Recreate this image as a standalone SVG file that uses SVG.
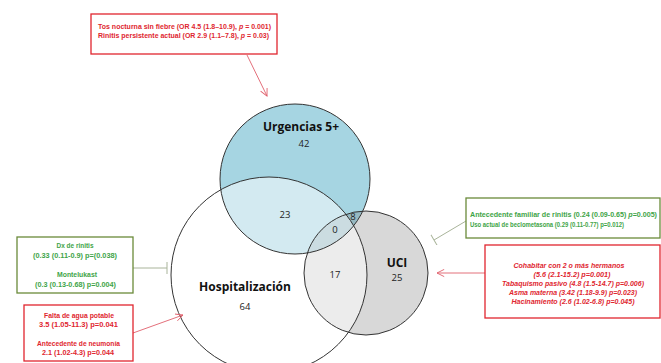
<svg xmlns="http://www.w3.org/2000/svg" width="661" height="363" viewBox="0 0 661 363">
<defs>
<style>
.bx-red{fill:#fff;stroke:#e0262f;stroke-width:1.3}
.bx-grn{fill:#fff;stroke:#6a8a3a;stroke-width:1.3}
.t-red{font-family:"Liberation Sans",Arial,sans-serif;font-weight:bold;font-size:7px;fill:#e0262f}
.t-grn{font-family:"Liberation Sans",Arial,sans-serif;font-weight:bold;font-size:7px;fill:#3ea447}
.sm{font-size:6.3px}
.it{font-style:italic}
.lbl{font-family:"Open Sans","DejaVu Sans",sans-serif;font-weight:bold;font-size:12px;fill:#111;text-anchor:middle}
.num{font-family:"Open Sans","DejaVu Sans",sans-serif;font-size:9.5px;fill:#222;text-anchor:middle}
.circ{stroke:#333;stroke-width:1}
.c-red{fill:none;stroke:#e0606c;stroke-width:0.9}
.c-grn{fill:none;stroke:#a9b49a;stroke-width:1}
.mid{text-anchor:middle}
</style>
<marker id="arr" viewBox="0 0 10 10" refX="9" refY="5" markerWidth="9" markerHeight="9" orient="auto" markerUnits="userSpaceOnUse">
<path d="M1,1 L9,5 L1,9" fill="none" stroke="#e0606c" stroke-width="1"/>
</marker>
<marker id="tee" viewBox="0 0 4 12" refX="2" refY="6" markerWidth="4" markerHeight="12" orient="auto" markerUnits="userSpaceOnUse">
<path d="M2,0 L2,12" fill="none" stroke="#a9b49a" stroke-width="1"/>
</marker>
</defs>
<rect width="661" height="363" fill="#fff"/>

<g id="venn">
<g id="urgencias-circle"><circle cx="295" cy="179" r="75" fill="#a6d5e2"/></g>
<g id="uci-circle"><circle cx="366" cy="273" r="62" fill="#696969" fill-opacity="0.26"/></g>
<g id="hosp-circle"><circle cx="269" cy="275" r="98" fill="#fff" fill-opacity="0.5"/></g>
<circle cx="295" cy="179" r="75" fill="none" class="circ"/>
<circle cx="366" cy="273" r="62" fill="none" class="circ"/>
<circle cx="269" cy="275" r="98" fill="none" class="circ"/>
</g>

<g id="node-urgencias">
<text class="lbl" x="301" y="131">Urgencias 5+</text>
<text class="num" x="304" y="147">42</text>
</g>
<g id="node-hospitalizacion">
<text class="lbl" x="245" y="291">Hospitalización</text>
<text class="num" x="245" y="310">64</text>
</g>
<g id="node-uci">
<text class="lbl" x="397" y="267">UCI</text>
<text class="num" x="397" y="281">25</text>
</g>
<g id="region-labels">
<text class="num" x="285" y="218">23</text>
<text class="num" x="335" y="233">0</text>
<text class="num" x="353" y="220">8</text>
<text class="num" x="335" y="278">17</text>
</g>

<g id="connectors">
<line class="c-red" x1="247" y1="55" x2="267" y2="96" marker-end="url(#arr)"/>
<line class="c-grn" x1="466" y1="221" x2="434" y2="240" marker-end="url(#tee)"/>
<line class="c-red" x1="485" y1="273" x2="437" y2="273" marker-end="url(#arr)"/>
<line class="c-grn" x1="133" y1="268" x2="167" y2="268" marker-end="url(#tee)"/>
<line class="c-red" x1="133" y1="333" x2="183" y2="315" marker-end="url(#arr)"/>
</g>

<g id="box-top">
<rect class="bx-red" x="91" y="14" width="186" height="40"/>
<text class="t-red" x="98" y="28.5" textLength="173" lengthAdjust="spacingAndGlyphs">Tos nocturna sin fiebre (OR 4.5 (1.8–10.9), <tspan class="it">p</tspan> = 0.001)</text>
<text class="t-red" x="98" y="38" textLength="171" lengthAdjust="spacingAndGlyphs">Rinitis persistente actual (OR 2.9 (1.1–7.8), <tspan class="it">p</tspan> = 0.03)</text>
</g>

<g id="box-right-green">
<rect class="bx-grn" x="466" y="198" width="194" height="40"/>
<text class="t-grn sm" x="470" y="216.5" textLength="187" lengthAdjust="spacingAndGlyphs">Antecedente familiar de rinitis (0.24 (0.09-0.65) <tspan class="it">p</tspan>=0.005)</text>
<text class="t-grn sm" x="470" y="226.5" textLength="154" lengthAdjust="spacingAndGlyphs">Uso actual de beclometasona (0.29 (0.11-0.77) p=0.012)</text>
</g>

<g id="box-right-red">
<rect class="bx-red" x="485" y="245" width="175" height="73"/>
<g class="it">
<text class="t-red mid" x="569" y="267.5" textLength="111" lengthAdjust="spacingAndGlyphs">Cohabitar con 2 o más hermanos</text>
<text class="t-red mid" x="572" y="276.5" textLength="77" lengthAdjust="spacingAndGlyphs">(5.6 (2.1-15.2) p=0.001)</text>
<text class="t-red mid" x="573" y="286" textLength="142" lengthAdjust="spacingAndGlyphs">Tabaquismo pasivo (4.8 (1.5-14.7) p=0.006)</text>
<text class="t-red mid" x="573" y="295" textLength="128" lengthAdjust="spacingAndGlyphs">Asma materna (3.42 (1.18-9.9) p=0.023)</text>
<text class="t-red mid" x="573" y="304" textLength="123" lengthAdjust="spacingAndGlyphs">Hacinamiento (2.6 (1.02-6.8) p=0.045)</text>
</g>
</g>

<g id="box-left-green">
<rect class="bx-grn" x="17" y="237" width="116" height="56"/>
<text class="t-grn mid" x="75" y="247.5" textLength="37" lengthAdjust="spacingAndGlyphs">Dx de rinitis</text>
<text class="t-grn mid" x="75" y="257.5" textLength="84" lengthAdjust="spacingAndGlyphs">(0.33 (0.11-0.9) p=(0.038)</text>
<text class="t-grn mid" x="77" y="276.5" textLength="40" lengthAdjust="spacingAndGlyphs">Montelukast</text>
<text class="t-grn mid" x="75.5" y="286.5" textLength="81" lengthAdjust="spacingAndGlyphs">(0.3 (0.13-0.68) p=0.004)</text>
</g>

<g id="box-left-red">
<rect class="bx-red" x="24" y="305" width="109" height="56"/>
<text class="t-red mid" x="79" y="317.5" textLength="70" lengthAdjust="spacingAndGlyphs">Falta de agua potable</text>
<text class="t-red mid" x="78.5" y="326.5" textLength="79" lengthAdjust="spacingAndGlyphs">3.5 (1.05-11.3) p=0.041</text>
<text class="t-red mid" x="78.5" y="345.5" textLength="83" lengthAdjust="spacingAndGlyphs">Antecedente de neumonía</text>
<text class="t-red mid" x="78" y="354.5" textLength="72" lengthAdjust="spacingAndGlyphs">2.1 (1.02-4.3) p=0.044</text>
</g>
</svg>
